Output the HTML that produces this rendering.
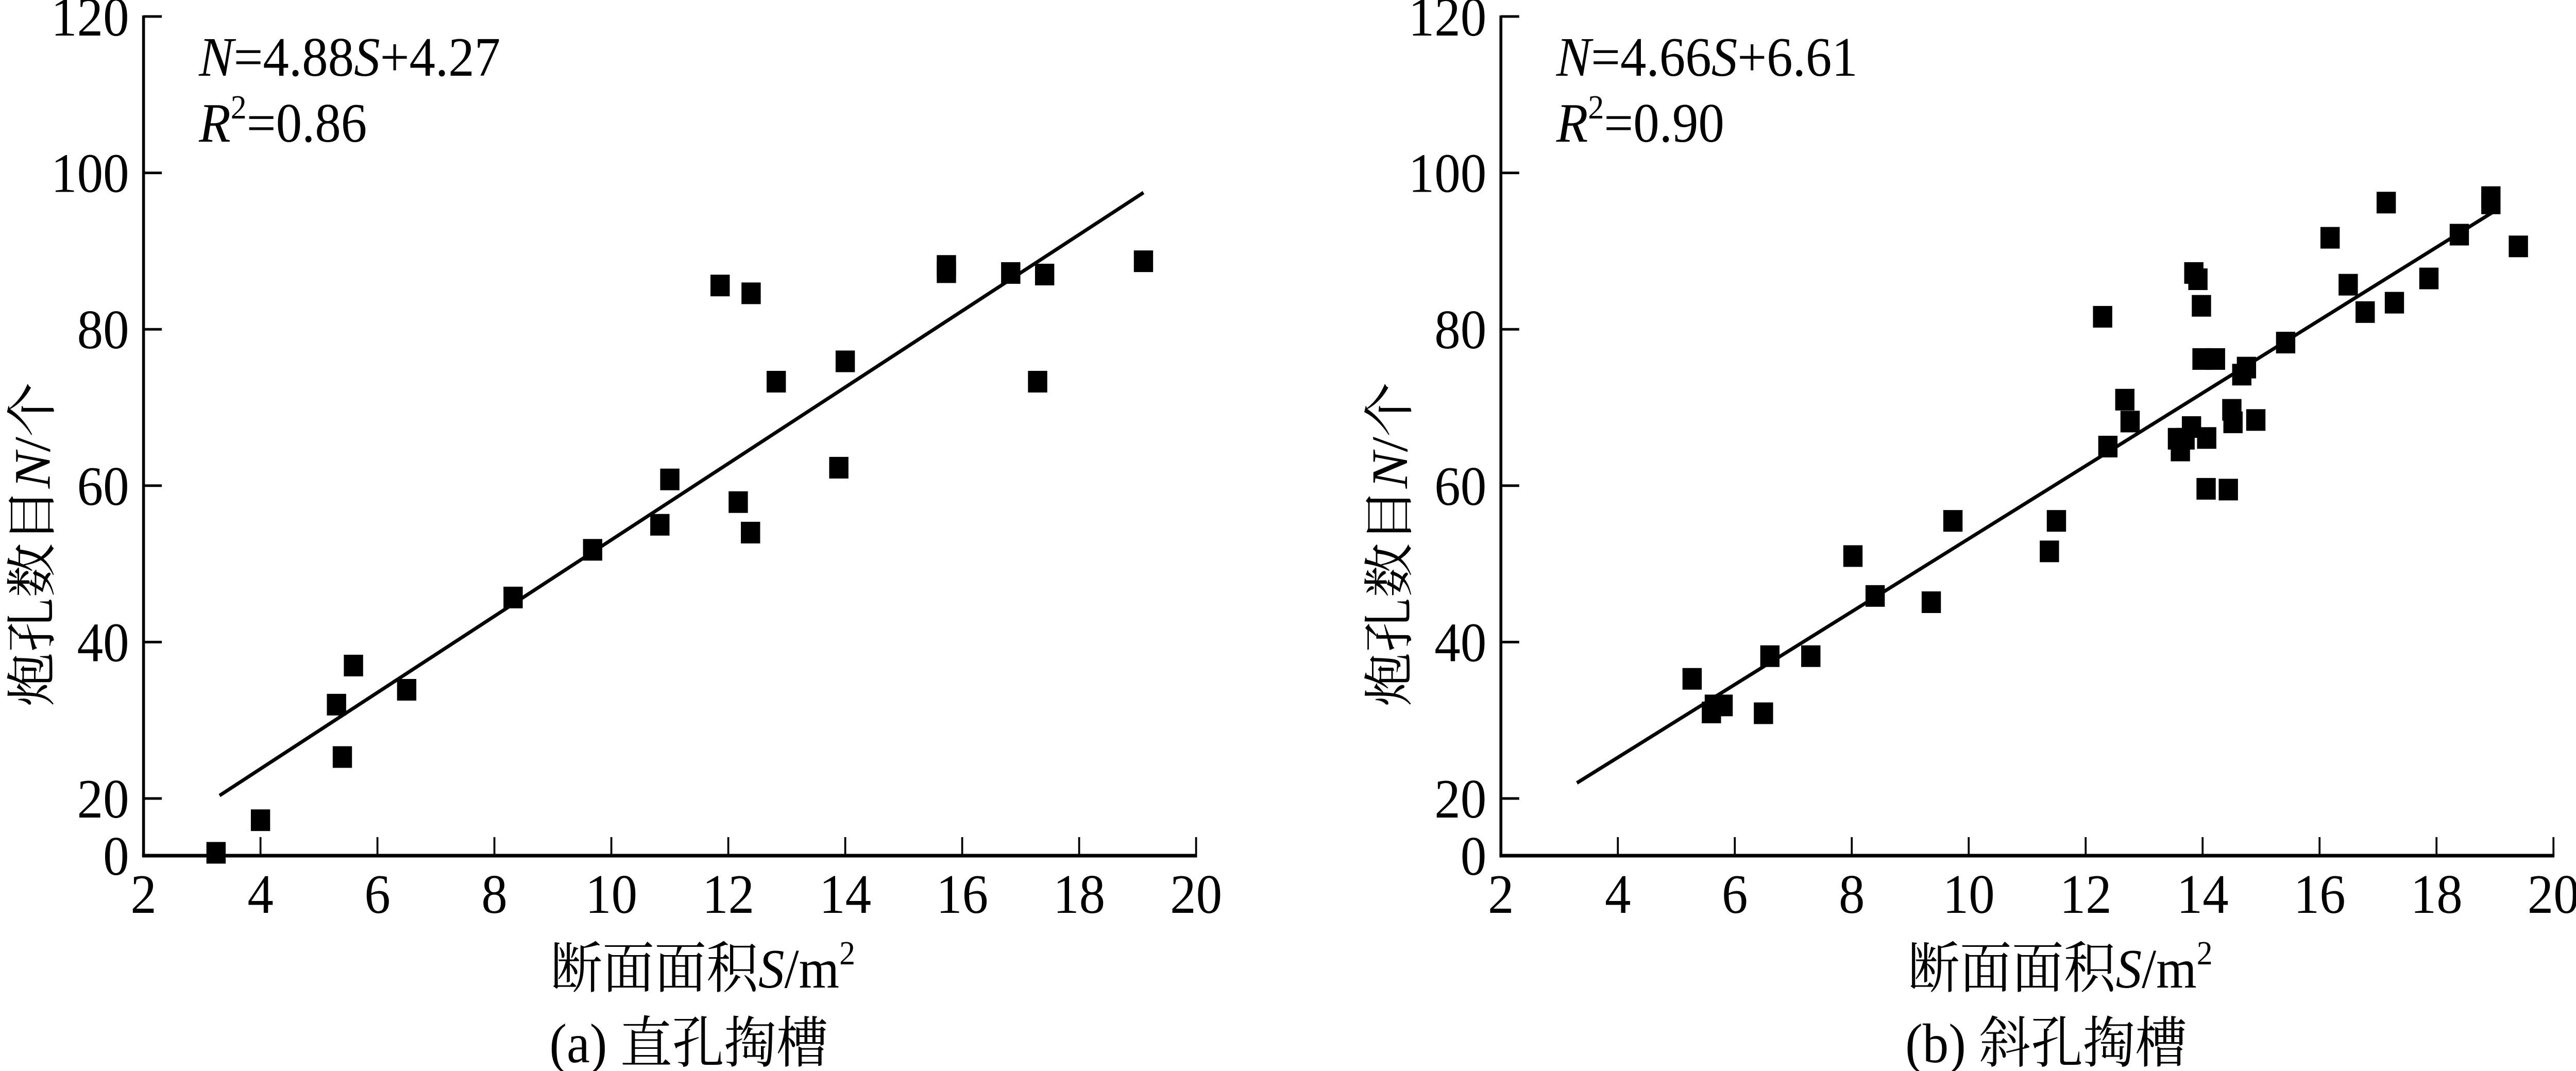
<!DOCTYPE html>
<html><head><meta charset="utf-8"><title>Blast holes vs cross-section area</title>
<style>
html,body{margin:0;padding:0;background:#fff;width:100%;height:100%;overflow:hidden;}
svg{display:block;width:100vw;height:100vh;}
text{font-family:"Liberation Serif","Noto Serif CJK SC",serif;fill:#000;}
</style></head>
<body>
<svg id="chart" viewBox="0 0 5348 2079" preserveAspectRatio="none" xmlns="http://www.w3.org/2000/svg"></svg>
<script>
const xTicks = [2,4,6,8,10,12,14,16,18,20];
const yTicks = [0,20,40,60,80,100,120];
// panel (a) 直孔掏槽
const aS = [3.24,4.0,5.30,5.40,5.59,6.50,8.32,9.68,10.83,11.0,11.86,12.17,12.38,12.39,12.82,13.89,14.0,15.73,15.73,16.83,17.41,17.29,19.1];
const aN = [1,12.4,32.0,25.3,37.0,33.9,45.7,51.8,55.0,60.8,85.6,57.9,54.0,84.6,73.3,62.3,75.9,88.1,87.3,87.2,87.0,73.3,88.7];
const aFit = [4.88,4.27];
const aFitRange = [3.3,19.1];
// panel (b) 斜孔掏槽
const bS = [5.27,5.60,5.65,5.80,6.49,6.60,7.30,8.02,8.40,9.36,9.73,11.38,11.50,12.29,12.38,12.67,12.76,13.57,13.62,13.70,13.81,13.85,13.92,13.98,13.99,14.22,14.07,14.06,14.44,14.50,14.52,14.67,14.75,14.91,15.42,16.18,16.49,16.78,17.14,17.28,17.87,18.39,18.93,18.93,19.40];
const bN = [35.3,31.0,31.9,31.9,30.9,38.2,38.2,51.0,45.9,45.1,55.5,51.6,55.5,81.6,65.0,71.0,68.2,66.0,64.5,66.0,67.5,87.2,86.4,83.0,76.2,76.2,66.1,59.6,59.5,69.7,68.1,74.2,75.1,68.4,78.3,91.7,85.7,82.2,96.2,83.4,86.5,92.1,96.9,96.1,90.6];
const bFit = [4.66,6.61];
const bFitRange = [3.3,19.0];

const NS = "http://www.w3.org/2000/svg";
const svg = document.getElementById('chart');
function mk(tag, attrs, parent){
  const e = document.createElementNS(NS, tag);
  for (const k in attrs) e.setAttribute(k, attrs[k]);
  (parent||svg).appendChild(e);
  return e;
}
function yScale(v){
  if (v <= 20) return 1661 - (1661-1550)*v/20;
  return 1550 - (v-20)*15.18;
}

function panel(x0, S, N, fit, range, eq, r2, caption, key){
  const xs = v => x0 + (v-2)*121.4;
  const g = mk('g', {});
  
  
  const ya = mk('line', {x1:x0, y1:30, x2:x0, y2:1663, stroke:'#000','stroke-width':6}, g);
  
  
  const xa = mk('line', {x1:x0-3, y1:1661, x2:xs(20)+2, y2:1661, stroke:'#000','stroke-width':7}, g);
  
  
  xTicks.forEach(t => {
    if (t > 2) {
      const tk = mk('line', {x1:xs(t), y1:1661, x2:xs(t), y2:1625, stroke:'#000','stroke-width':4}, g);
      
      
    }
    const lb = mk('text', {x:xs(t), y:1772, 'font-size':108, 'text-anchor':'middle'}, g);
    lb.textContent = t;
    
    
  });
  yTicks.forEach(t => {
    if (t > 0) {
      const tk = mk('line', {x1:x0, y1:yScale(t), x2:x0+38, y2:yScale(t), stroke:'#000','stroke-width':5}, g);
      
      
    }
    const lb = mk('text', {x:x0-30, y:yScale(t)+37, 'font-size':108, 'text-anchor':'end'}, g);
    lb.textContent = t;
    
    
  });
  const fl = mk('line', {x1:xs(range[0]), y1:yScale(fit[0]*range[0]+fit[1]), x2:xs(range[1]), y2:yScale(fit[0]*range[1]+fit[1]), stroke:'#000','stroke-width':7}, g);
  
  
  S.forEach((s,i) => {
    const r = mk('rect', {x:xs(s)-20, y:yScale(N[i])-21, width:40, height:42, fill:'#000'}, g);
    
    
  });
  const e1 = mk('text', {x:x0+115, y:147, 'font-size':108}, g);
  e1.innerHTML = '<tspan font-style="italic">N</tspan>=' + eq[0] + '<tspan font-style="italic">S</tspan>+' + eq[1];
  
  
  const e2 = mk('text', {x:x0+115, y:275, 'font-size':108}, g);
  e2.innerHTML = '<tspan font-style="italic">R</tspan><tspan font-size="66" dy="-45">2</tspan><tspan dy="45">=' + r2 + '</tspan>';
  
  
  const xt = mk('text', {x:x0+1161, y:1917, 'font-size':108, 'text-anchor':'middle'}, g);
  xt.innerHTML = '断面面积<tspan font-style="italic">S</tspan>/m<tspan font-size="66" dy="-45">2</tspan>';
  
  
  const ytt = mk('text', {x:0, y:0, 'font-size':106, 'text-anchor':'middle', transform:'translate(' + (x0-195) + ',1057) rotate(-90)'}, g);
  ytt.innerHTML = '炮孔数目<tspan font-style="italic">N</tspan>/个';
  
  
  const cp = mk('text', {x:x0+1132, y:2062, 'font-size':108, 'text-anchor':'middle'}, g);
  cp.textContent = caption;
  
  
}
panel(298, aS, aN, aFit, aFitRange, ['4.88','4.27'], '0.86', '(a) 直孔掏槽', 'a');
panel(3116, bS, bN, bFit, bFitRange, ['4.66','6.61'], '0.90', '(b) 斜孔掏槽', 'b');
</script>
</body></html>
